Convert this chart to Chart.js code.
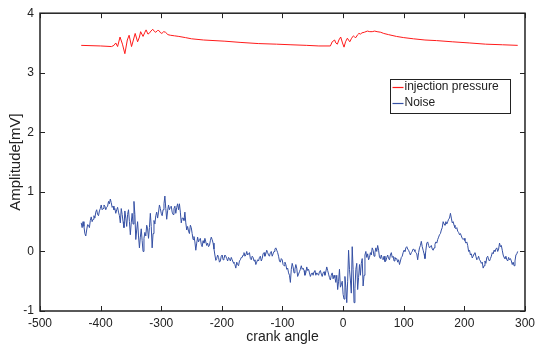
<!DOCTYPE html>
<html>
<head>
<meta charset="utf-8">
<script src="https://cdn.jsdelivr.net/npm/chart.js@4.4.1/dist/chart.umd.min.js"></script>
<style>
html,body{margin:0;padding:0;background:#fff;}
#wrap{width:540px;height:349px;position:relative;}
</style>
</head>
<body>
<div id="wrap"><canvas id="c" width="540" height="349"></canvas></div>
<script>
// ---- data ----
const xTickValues = [-500, -400, -300, -200, -100, 0, 100, 200, 300];
const yTickValues = [-1, 0, 1, 2, 3, 4];
const seriesNames = ["injection pressure", "Noise"];

const pressureAngle = [-432, -400, -382, -378, -375, -372, -368, -364, -360, -356,
  -353, -349, -346, -343, -339, -336, -334, -330, -327, -325,
  -322, -320, -317, -314, -311, -309, -306, -304, -301, -299,
  -296, -293, -289, -285, -278, -271, -260, -250, -230, -195,
  -170, -140, -110, -86, -60, -40, -21, -18, -14, -12,
  -9.5, -7, -4, -1, 1.5, 4, 7, 9, 11, 14,
  17, 19, 21, 24, 26, 29, 31, 35, 40, 44,
  48, 52, 56, 62, 67, 75, 88, 100, 116, 135,
  154, 180, 209, 235, 263, 288];
const pressureValue = [3.46, 3.45, 3.44, 3.46, 3.50, 3.44, 3.60, 3.48, 3.32, 3.55,
  3.63, 3.44, 3.55, 3.66, 3.52, 3.60, 3.69, 3.61, 3.68, 3.72,
  3.65, 3.66, 3.70, 3.73, 3.69, 3.68, 3.71, 3.71, 3.67, 3.66,
  3.69, 3.68, 3.64, 3.63, 3.62, 3.61, 3.59, 3.57, 3.55, 3.53,
  3.51, 3.49, 3.48, 3.47, 3.46, 3.45, 3.45, 3.52, 3.55, 3.50,
  3.48, 3.55, 3.60, 3.50, 3.43, 3.52, 3.58, 3.55, 3.52, 3.58,
  3.62, 3.60, 3.59, 3.64, 3.66, 3.65, 3.67, 3.68, 3.70, 3.69,
  3.69, 3.70, 3.69, 3.68, 3.66, 3.64, 3.61, 3.59, 3.57, 3.55,
  3.54, 3.52, 3.50, 3.48, 3.47, 3.46];

// noise sampled every 3 degrees of crank angle starting at -432
const noiseStartAngle = -432;
const noiseAngleStep = 3;
const noiseValue = [
  0.48, 0.50, 0.30, 0.36, 0.44, 0.52, 0.50, 0.60, 0.66, 0.62,
  0.68, 0.78, 0.72, 0.76, 0.74, 0.84, 0.88, 0.74, 0.70, 0.64,
  0.74,
  0.60, 0.72, 0.50, 0.68, 0.42, 0.70, 0.28, 0.64, 0.84, 0.20,
  0.50, 0.06, 0.38, 0.00, 0.32, 0.44, 0.22, 0.64, 0.06, 0.52,
  0.60, 0.56, 0.78, 0.64,
  0.70, 0.93, 0.54, 0.78, 0.74, 0.66, 0.72, 0.64, 0.80, 0.80,
  0.48, 0.56, 0.66, 0.36, 0.34, 0.44, 0.30, 0.25, 0.02, 0.24,
  0.20, 0.12, 0.18, 0.22, 0.10, 0.08, 0.18, 0.20, 0.04, -0.15,
  -0.06, -0.18, -0.08, -0.14, -0.06, -0.12, -0.10, -0.16, -0.14, -0.20,
  -0.28, -0.22, -0.16, -0.10, -0.06, -0.08, 0.00, -0.04, -0.12, -0.08,
  -0.16, -0.22, -0.14, -0.10, -0.16, -0.04, -0.08, 0.02, -0.06, -0.02,
  -0.08, 0.00, 0.06, -0.02, -0.16, -0.12, -0.22, -0.18, -0.30, -0.36,
  -0.52, -0.20, -0.36, -0.22, -0.42, -0.34, -0.24, -0.28, -0.40, -0.26,
  -0.30, -0.42, -0.36, -0.34, -0.40, -0.38, -0.34, -0.38, -0.36, -0.40,
  -0.26, -0.38, -0.48, -0.36, -0.40, -0.52, -0.64, -0.30, -0.56, -0.72,
  -0.42, -0.86, 0.02, -0.48, 0.08, -0.86, -0.30, -0.64, -0.22, -0.20,
  -0.58, -0.06, -0.10, -0.14, -0.02, 0.06, -0.08, 0.06, 0.10, -0.10,
  -0.06, -0.14, -0.17, -0.10, -0.12, -0.06, -0.10, -0.16, -0.13, -0.18,
  -0.22, -0.10, -0.02, 0.00, 0.08, 0.02, -0.06, 0.00, 0.03, -0.02,
  -0.14, 0.06, 0.17, 0.02, -0.12, 0.14, 0.10, 0.08, 0.04, 0.06,
  0.16, 0.20, 0.28, 0.36, 0.50, 0.44, 0.46, 0.54, 0.64, 0.48,
  0.44, 0.38, 0.34, 0.28, 0.26, 0.20, 0.18, 0.16, 0.00, -0.06,
  -0.11, -0.04, -0.08, -0.12, -0.14, -0.20, -0.28, -0.16, -0.10, -0.14,
  -0.12, -0.02, 0.02, 0.04, 0.00, 0.14, 0.10, -0.06, -0.12, -0.14,
  -0.10, -0.12, -0.22, -0.24, -0.06, 0.00
];
// in-between samples (half a step after each sample above)
const noiseMidValue = [
  0.40, 0.42, 0.26, 0.45, 0.40, 0.58, 0.54, 0.56, 0.70, 0.60,
  0.72, 0.70, 0.78, 0.70, 0.76, 0.80, 0.82, 0.76, 0.72, 0.70,
  0.66,
  0.48, 0.62, 0.40, 0.56, 0.62, 0.50, 0.48, 0.46, 0.62, 0.36,
  0.26, 0.24, 0.18, 0.22, 0.26, 0.38, 0.40, 0.42, 0.30, 0.46,
  0.66, 0.66, 0.72,
  0.60,
  0.80, 0.72, 0.68, 0.70, 0.76, 0.62, 0.76, 0.74, 0.70, 0.66,
  0.56, 0.52, 0.48, 0.42, 0.30, 0.40, 0.20, 0.16, 0.14,
  0.16,
  0.22, 0.08, 0.14, 0.16, 0.14, 0.10, 0.24, 0.14, -0.06, -0.12,
  -0.10, -0.16, -0.06, -0.12, -0.08, -0.16, -0.12, -0.10, -0.18,
  -0.22,
  -0.18, -0.24, -0.14, -0.10, -0.02, -0.06, -0.06, -0.02, -0.14, -0.10,
  -0.14, -0.18, -0.16, -0.08, -0.12, -0.02, -0.04, -0.02, -0.08,
  0.00,
  -0.04, 0.04, 0.02, -0.08, -0.18, -0.14, -0.24, -0.22, -0.28, -0.40,
  -0.30, -0.26, -0.30, -0.28, -0.38, -0.30, -0.30, -0.32, -0.36,
  -0.32,
  -0.36, -0.38, -0.40, -0.32, -0.36, -0.40, -0.32, -0.42, -0.34, -0.34,
  -0.32, -0.44, -0.40, -0.46, -0.44, -0.40, -0.50, -0.60, -0.50,
  -0.80,
  -0.60, -0.50, -0.30, -0.70, -0.30, -0.62, -0.20, -0.44, -0.40, -0.12,
  -0.40, 0.00, -0.04, -0.10, -0.06, 0.02, -0.02, 0.00, 0.02,
  -0.12,
  -0.12, -0.08, -0.16, -0.06, -0.14, -0.02, -0.08, -0.10, -0.12, -0.14,
  -0.16, -0.08, 0.02, 0.06, 0.04, -0.02, -0.02, 0.04, 0.00,
  -0.04,
  -0.02, 0.10, 0.08, -0.04, 0.02, 0.16, 0.06, 0.10, 0.02, 0.12,
  0.14, 0.24, 0.30, 0.40, 0.46, 0.50, 0.50, 0.56, 0.56,
  0.50,
  0.40, 0.40, 0.32, 0.30, 0.22, 0.22, 0.14, 0.10, 0.02, -0.04,
  -0.08, -0.02, -0.14, -0.08, -0.16, -0.18, -0.24, -0.20, -0.08,
  -0.16,
  -0.08, -0.04, 0.00, 0.06, 0.04, 0.08, 0.02, -0.10, -0.08, -0.16,
  -0.14, -0.16, -0.18, -0.16, -0.04
];

// ---- build datasets ----
const pressureData = pressureAngle.map((a, i) => ({x: a, y: pressureValue[i]}));
const noiseData = [];
noiseValue.forEach((v, i) => {
  const a = noiseStartAngle + i * noiseAngleStep;
  noiseData.push({x: a, y: v});
  if (i < noiseMidValue.length) noiseData.push({x: a + noiseAngleStep / 2, y: noiseMidValue[i]});
});

const RED = '#ff1a1a';
const BLUE = '#3550a4';
const FONT = '"Liberation Sans", Arial, Helvetica, sans-serif';

const framePlugin = {
  id: 'frame',
  afterDraw(chart) {
    const ctx = chart.ctx;
    const a = chart.chartArea;
    const xs = chart.scales.x, ys = chart.scales.y;
    ctx.save();
    ctx.strokeStyle = '#222';
    ctx.lineWidth = 1.5;
    ctx.strokeRect(a.left, a.top, a.right - a.left, a.bottom - a.top);
    ctx.lineWidth = 1;
    ctx.beginPath();
    xTickValues.forEach(v => {
      const px = Math.round(xs.getPixelForValue(v)) + 0.5;
      ctx.moveTo(px, a.bottom); ctx.lineTo(px, a.bottom - 5);
      ctx.moveTo(px, a.top); ctx.lineTo(px, a.top + 5);
    });
    yTickValues.forEach(v => {
      const py = Math.round(ys.getPixelForValue(v)) + 0.5;
      ctx.moveTo(a.left, py); ctx.lineTo(a.left + 5, py);
      ctx.moveTo(a.right, py); ctx.lineTo(a.right - 5, py);
    });
    ctx.stroke();

    // legend
    const lx = 390.5, ly = 79.5, lw = 120, lh = 34;
    ctx.fillStyle = '#fff';
    ctx.fillRect(lx, ly, lw, lh);
    ctx.strokeStyle = '#222';
    ctx.lineWidth = 1;
    ctx.strokeRect(lx, ly, lw, lh);
    const entries = [[seriesNames[0], RED, 87], [seriesNames[1], BLUE, 103]];
    ctx.font = '12px ' + FONT;
    ctx.textBaseline = 'middle';
    ctx.textAlign = 'left';
    entries.forEach(([name, col, y]) => {
      ctx.beginPath();
      ctx.strokeStyle = col;
      ctx.lineWidth = 1.2;
      ctx.moveTo(lx + 2, y + 0.5); ctx.lineTo(lx + 13, y + 0.5);
      ctx.stroke();
      ctx.fillStyle = '#222';
      ctx.fillText(name, lx + 14, y);
    });

    // axis titles
    ctx.fillStyle = '#222';
    ctx.font = '14px ' + FONT;
    ctx.textAlign = 'center';
    ctx.fillText('crank angle', (a.left + a.right) / 2, 337);
    ctx.save();
    ctx.translate(16, (a.top + a.bottom) / 2);
    ctx.rotate(-Math.PI / 2);
    ctx.font = '15px ' + FONT;
    ctx.fillText('Amplitude[mV]', 0, 0);
    ctx.restore();
    ctx.restore();
  }
};

new Chart(document.getElementById('c'), {
  type: 'line',
  data: {
    datasets: [
      {label: seriesNames[0], data: pressureData, borderColor: RED, borderWidth: 1, pointRadius: 0, tension: 0, fill: false},
      {label: seriesNames[1], data: noiseData, borderColor: BLUE, borderWidth: 1, pointRadius: 0, tension: 0, fill: false}
    ]
  },
  options: {
    responsive: false,
    animation: false,
    events: [],
    layout: {padding: {left: 0, top: 13, right: 10, bottom: 0}},
    plugins: {legend: {display: false}, tooltip: {enabled: false}},
    scales: {
      x: {
        type: 'linear', min: -500, max: 300,
        afterFit(s) { s.height = 38; },
        afterBuildTicks(s) { s.ticks = xTickValues.map(v => ({value: v})); },
        grid: {drawOnChartArea: false, drawTicks: false},
        border: {display: false},
        ticks: {padding: 5, color: '#222', font: {family: FONT, size: 12}, maxRotation: 0, autoSkip: false}
      },
      y: {
        type: 'linear', min: -1, max: 4,
        afterFit(s) { s.width = 40; },
        afterBuildTicks(s) { s.ticks = yTickValues.map(v => ({value: v})); },
        grid: {drawOnChartArea: false, drawTicks: false},
        border: {display: false},
        ticks: {padding: 6, color: '#222', font: {family: FONT, size: 12}, autoSkip: false}
      }
    }
  },
  plugins: [framePlugin]
});
</script>
</body>
</html>
